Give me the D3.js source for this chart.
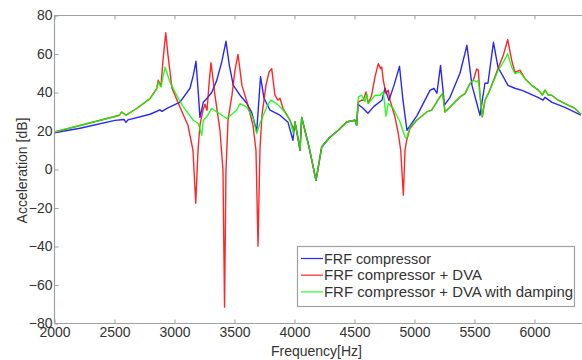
<!DOCTYPE html>
<html>
<head>
<meta charset="utf-8">
<script src="https://d3js.org/d3.v7.min.js"></script>
<style>
  body { margin: 0; background: #fff; }
  text { font-family: "Liberation Sans", Arial, sans-serif; }
</style>
</head>
<body>
<div id="chart"></div>
<script>
// tick labels
var xTicks = [2000, 2500, 3000, 3500, 4000, 4500, 5000, 5500, 6000];
var yTicks = [-80, -60, -40, -20, 0, 20, 40, 60, 80];
var seriesNames = ["FRF compressor", "FRF compressor + DVA", "FRF compressor + DVA with damping"];

// shared part of all three curves (4000-4520 Hz)
var midHz = [4004, 4027, 4046, 4060, 4120, 4179, 4227, 4290, 4365, 4435, 4470, 4504, 4518];
var midDb = [24.7, 16.9, 10, 27, 12, -5.6, 11.7, 16.5, 20.4, 24.7, 25.2, 25.6, 23];

// FRF compressor (blue)
var blueHz = [2000, 2212, 2504, 2579, 2596, 2612, 2796, 2879, 2896, 2937, 3046, 3129, 3157, 3179, 3198, 3212,
  3240, 3271, 3310, 3352, 3393, 3429, 3457, 3490, 3546, 3602, 3643, 3685, 3717, 3746, 3796, 3879, 3946, 3987]
  .concat(midHz)
  .concat([4529, 4571, 4612, 4662, 4729, 4754, 4787, 4829, 4875, 4904, 4937, 5021, 5129, 5162, 5187, 5217,
  5250, 5296, 5379, 5437, 5479, 5546, 5587, 5612, 5658, 5696, 5779, 5837, 5896, 6029, 6071, 6087, 6146, 6254, 6387]);
var blueDb = [19.1, 21.4, 25.5, 26, 24.5, 25.8, 28.7, 31, 30.2, 31.8, 35, 42.2, 49, 56.2, 40, 27.1,
  34.9, 37, 40, 46.3, 55.7, 66.6, 54.1, 43.7, 38.6, 34.4, 29.7, 19.9, 48.2, 37, 30.8, 28.2, 24.5, 15.2]
  .concat(midDb)
  .concat([33.9, 31.8, 29.2, 32.8, 36, 42.2, 36, 43.7, 53.6, 36, 20.4, 28, 41.1, 42.2, 39.6, 54.1,
  33.4, 37.5, 50, 64.5, 43.7, 28.2, 44.8, 44.8, 66.1, 53.1, 43.7, 42.2, 41.1, 37.5, 36, 37.5, 34.9, 32.3, 28.2]);

// FRF compressor + DVA (red)
var redHz = [2000, 2278, 2542, 2560, 2596, 2685, 2796, 2852, 2865, 2887, 2904, 2927, 2946, 2979, 3046, 3112,
  3154, 3177, 3196, 3212, 3237, 3254, 3271, 3287, 3304, 3337, 3379, 3404, 3417, 3429, 3446, 3479, 3504, 3529,
  3562, 3612, 3654, 3679, 3696, 3712, 3729, 3762, 3787, 3810, 3837, 3862, 3879, 3904, 3962, 3996]
  .concat(midHz)
  .concat([4532, 4560, 4573, 4596, 4615, 4643, 4671, 4698, 4718, 4727, 4740, 4762, 4782, 4796, 4837, 4865,
  4885, 4907, 4921, 4935, 4962, 5018, 5102, 5143, 5212, 5235, 5254, 5296, 5379, 5421, 5462, 5490, 5518, 5532,
  5546, 5565, 5587, 5615, 5643, 5698, 5740, 5777, 5810, 5837, 5879, 5921, 5977, 6032, 6046, 6065, 6087, 6115,
  6143, 6198, 6254, 6337, 6387]);
var redDb = [19.5, 23.9, 28.2, 29.9, 28.2, 31.7, 36.8, 42, 46.4, 43.2, 56.7, 71.1, 59.3, 42.2, 32.3, 23,
  10, -17.5, 10, 23, 30.8, 33.9, 30.8, 43.7, 55.5, 38.6, 20.4, -0.4, -71.5, -0.4, 25.6, 38.6, 51.6, 59.8,
  43.7, 33.4, 23, 10, -39.8, 10, 28.2, 43.7, 50.5, 52.4, 38.6, 36, 37, 31.8, 25.6, 20.4]
  .concat(midDb)
  .concat([35, 36, 36, 40.3, 34.3, 38.6, 48.1, 55, 52.4, 53.2, 46.3, 39.4, 41.2, 36, 27.3, 18.7,
  10, -13.3, 10, 15.2, 21.3, 25.6, 29.9, 30.8, 37.7, 39.4, 29.9, 32.5, 37.7, 39.4, 44.6, 46.3, 52.2, 51.6,
  38.6, 27.3, 36, 39.4, 43.7, 52.7, 59.3, 67.5, 56.7, 50.5, 51.6, 47.2, 43.7, 41.2, 40.3, 38.6, 41.2, 38.6,
  38.6, 36, 34.2, 31.7, 28.7]);

// FRF compressor + DVA with damping (green)
var greenHz = [2000, 2278, 2542, 2560, 2596, 2685, 2796, 2852, 2865, 2887, 2921, 2962, 3018, 3073, 3157, 3198,
  3227, 3240, 3268, 3310, 3352, 3435, 3518, 3546, 3602, 3657, 3685, 3712, 3768, 3802, 3852, 3907, 3962, 3990]
  .concat(midHz)
  .concat([4532, 4560, 4587, 4602, 4615, 4671, 4712, 4740, 4762, 4782, 4823, 4879, 4921, 4935, 4962, 5018,
  5102, 5143, 5212, 5235, 5254, 5296, 5379, 5421, 5462, 5490, 5518, 5532, 5546, 5565, 5587, 5615, 5643, 5698,
  5740, 5777, 5810, 5837, 5879, 5921, 5977, 6032, 6046, 6065, 6087, 6115, 6143, 6198, 6254, 6337, 6387]);
var greenDb = [19.5, 23.9, 28.2, 29.9, 28.2, 31.7, 36.8, 42, 45.5, 42.9, 53.2, 45.5, 38.5, 32.5, 25.6, 23.9,
  17.8, 25.6, 27.3, 31.7, 29.9, 26.5, 30.8, 34.2, 32.5, 26.5, 18.7, 23.9, 32.5, 36, 34.2, 30.8, 25.6, 18.7]
  .concat(midDb)
  .concat([37.7, 38.6, 35.2, 39.4, 34.4, 38.6, 38.6, 40.3, 27.7, 34.3, 31.7, 24.7, 16.9, 16.1, 22.1, 25.6,
  29.9, 30.8, 37.7, 39.4, 29.9, 32.5, 37.7, 39.4, 44.6, 46.3, 45.5, 46.3, 38.6, 27.3, 36, 39.4, 43.7, 51.6,
  55.8, 60.2, 53.2, 49.8, 50.6, 47.2, 43.7, 41.2, 40.3, 38.6, 41.2, 38.6, 38.6, 36, 34.2, 31.7, 28.7]);

var width = 582, height = 360;
var svg = d3.select("#chart").append("svg")
  .attr("width", width)
  .attr("height", height);

var x = d3.scaleLinear().domain([2000, 6400]).range([54.5, 582.5]);
var y = d3.scaleLinear().domain([-80, 80]).range([323.5, 15.5]);

var series = [
  {name: seriesNames[0], hz: blueHz, db: blueDb, color: "#0000ff"},
  {name: seriesNames[1], hz: redHz, db: redDb, color: "#ff0000"},
  {name: seriesNames[2], hz: greenHz, db: greenDb, color: "#00ff00"}
];

svg.append("clipPath").attr("id", "clip")
  .append("rect")
  .attr("x", x(2000)).attr("y", y(80))
  .attr("width", x(6400) - x(2000)).attr("height", y(-80) - y(80));

var line = d3.line()
  .x(function(d){ return x(d[0]); })
  .y(function(d){ return y(d[1]); });

var plot = svg.append("g").attr("clip-path", "url(#clip)");
series.forEach(function(s){
  var pts = s.hz.map(function(h, i){ return [h, s.db[i]]; });
  plot.append("path")
    .datum(pts)
    .attr("d", line)
    .attr("fill", "none")
    .attr("stroke", s.color)
    .attr("stroke-width", 1.4)
    .attr("stroke-linejoin", "round")
    .attr("opacity", 0.85);
});

//Axes (matlab style box, ticks pointing in)
var axisColor = "#a0a0a0";
var xAxisBottom = svg.append("g")
  .attr("transform", "translate(0," + y(-80) + ")")
  .call(d3.axisBottom(x).tickValues(xTicks).tickSize(-4).tickPadding(4).tickFormat(d3.format("d")));
var xAxisTop = svg.append("g")
  .attr("transform", "translate(0," + y(80) + ")")
  .call(d3.axisTop(x).tickValues(xTicks).tickSize(-4).tickFormat(""));
var yAxisLeft = svg.append("g")
  .attr("transform", "translate(" + x(2000) + ",0)")
  .call(d3.axisLeft(y).tickValues(yTicks).tickSize(-4).tickPadding(2));

[xAxisBottom, xAxisTop, yAxisLeft].forEach(function(g){
  g.select(".domain").attr("stroke", axisColor).attr("stroke-width", 1.2);
  g.selectAll(".tick line").attr("stroke", axisColor);
  g.selectAll(".tick text")
    .attr("fill", "#333")
    .style("font-size", "14px")
    .style("font-family", "Liberation Sans, Arial, sans-serif");
});
xAxisBottom.select(".domain").attr("d", "M" + x(2000) + ",0H" + x(6400));
xAxisTop.select(".domain").attr("d", "M" + x(2000) + ",0H" + x(6400));
yAxisLeft.select(".domain").attr("d", "M0," + y(-80) + "V" + y(80));

svg.append("text")
  .text("Frequency[Hz]")
  .attr("x", 316.5)
  .attr("y", 356)
  .attr("text-anchor", "middle")
  .attr("fill", "#333")
  .style("font-size", "14px");

svg.append("text")
  .text("Acceleration [dB]")
  .attr("transform", "translate(27," + (y(0) + 1) + ") rotate(-90)")
  .attr("text-anchor", "middle")
  .attr("fill", "#333")
  .style("font-size", "14px");

// Legend
var legend = svg.append("g");
legend.append("rect")
  .attr("x", 297.5).attr("y", 246.5)
  .attr("width", 277).attr("height", 60)
  .attr("fill", "#fff")
  .attr("stroke", axisColor)
  .attr("stroke-width", 1.2);
var legendWidths = [107, 158, 249];
series.forEach(function(s, i){
  var ly = 258.5 + i * 16.7;
  legend.append("line")
    .attr("x1", 301).attr("x2", 323)
    .attr("y1", ly).attr("y2", ly)
    .attr("stroke", s.color)
    .attr("stroke-width", 1.2)
    .attr("opacity", 0.85);
  legend.append("text")
    .text(s.name)
    .attr("x", 324)
    .attr("y", ly + 5)
    .attr("textLength", legendWidths[i])
    .attr("lengthAdjust", "spacingAndGlyphs")
    .attr("fill", "#333")
    .style("font-size", "14px");
});
</script>
</body>
</html>
